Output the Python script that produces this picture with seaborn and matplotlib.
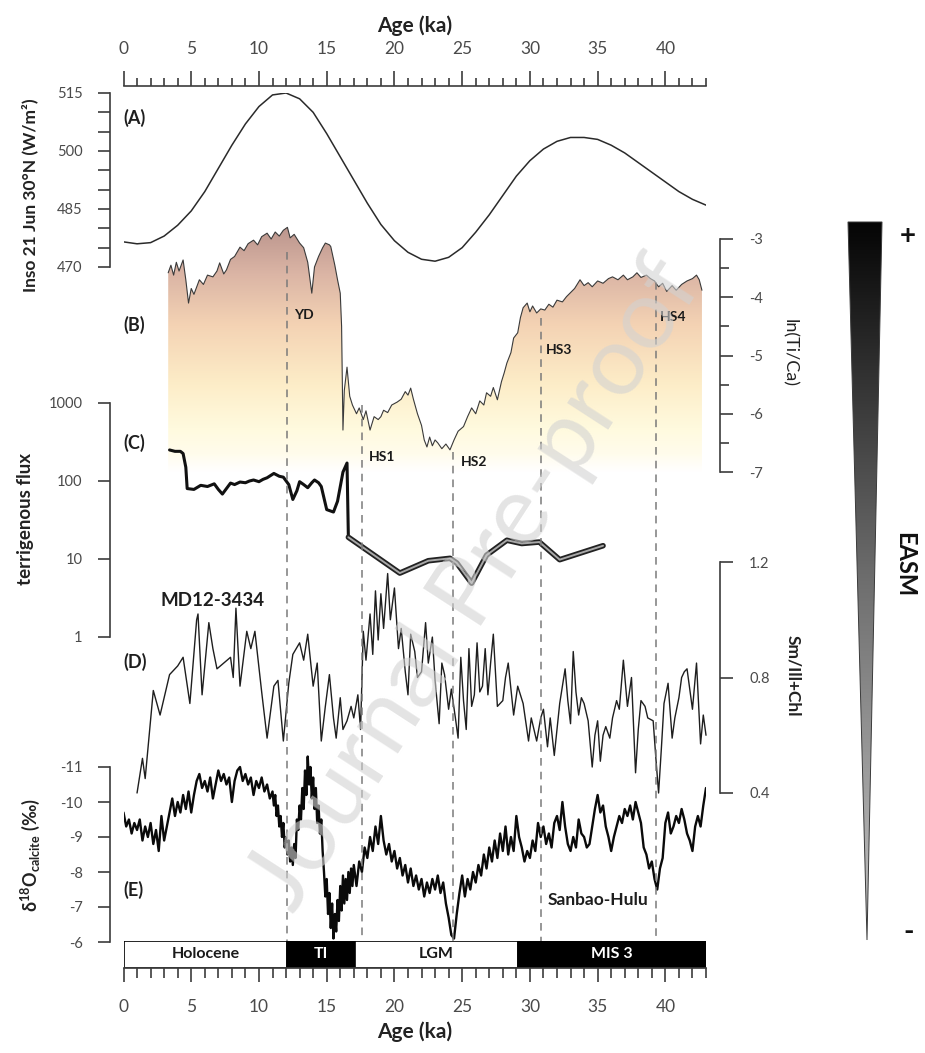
import numpy as np
import matplotlib
matplotlib.use('Agg')
import matplotlib.pyplot as plt
import seaborn as sns
from matplotlib.colors import LinearSegmentedColormap
from matplotlib.patches import Polygon
from matplotlib.ticker import NullLocator

sns.set_theme(style='white')
plt.rcParams['font.family'] = ['Lato', 'DejaVu Sans']
plt.rcParams['axes.facecolor'] = 'none'
plt.rcParams['mathtext.fontset'] = 'custom'
plt.rcParams['mathtext.rm'] = 'Lato:bold'
plt.rcParams['mathtext.default'] = 'rm'

# ---------------- data ----------------
# (A) insolation 21 June 30N
a_age = [0, 1, 2, 3, 4, 5, 6, 7, 8, 9, 10, 11, 12, 13, 14, 15, 16, 17, 18, 19, 20, 21,
         22, 23, 24, 25, 26, 27, 28, 29, 30, 31, 32, 33, 34, 35, 36, 37, 38, 39, 40, 41, 42, 43]
a_inso = [476.5, 476.0, 476.3, 478.0, 480.8, 484.5, 489.5, 495.5, 501.5, 507.0, 511.5, 514.5,
          515.0, 513.5, 510.0, 504.5, 498.5, 492.5, 486.5, 481.0, 476.8, 473.8, 472.0, 471.5,
          472.5, 475.0, 479.0, 483.5, 488.5, 493.5, 497.5, 500.5, 502.5, 503.5, 503.5, 503.0,
          501.5, 499.5, 497.0, 494.5, 492.0, 489.5, 487.5, 486.0]

# (B) ln(Ti/Ca)
b_age = [3.3, 3.5, 3.7, 3.9, 4.1, 4.4, 4.6, 4.8, 5.0, 5.2, 5.6, 5.9, 6.2, 6.6, 6.9, 7.1, 7.4,
         7.6, 7.9, 8.2, 8.6, 8.9, 9.2, 9.6, 9.9, 10.2, 10.6, 10.9, 11.2, 11.5, 11.8, 12.1, 12.3,
         12.6, 13.0, 13.3, 13.6, 13.9, 14.1, 14.4, 14.7, 14.9, 15.2, 15.3, 15.6, 15.8, 16.0,
         16.1, 16.2, 16.3, 16.5, 16.7, 16.9, 17.2, 17.4, 17.7, 17.9, 18.2, 18.5, 18.8, 19.0,
         19.2, 19.5, 19.8, 20.2, 20.5, 20.8, 21.0, 21.2, 21.4, 21.7, 22.0, 22.2, 22.4, 22.6,
         22.8, 23.0, 23.2, 23.5, 23.8, 24.1, 24.4, 24.7, 25.1, 25.4, 25.7, 26.0, 26.3, 26.6,
         26.8, 27.1, 27.3, 27.6, 27.9, 28.1, 28.3, 28.6, 28.8, 29.1, 29.3, 29.5, 29.8, 30.0,
         30.2, 30.5, 30.8, 31.1, 31.4, 31.7, 32.0, 32.4, 32.7, 33.0, 33.3, 33.7, 34.0, 34.3,
         34.6, 35.0, 35.4, 35.8, 36.1, 36.5, 36.9, 37.2, 37.6, 37.9, 38.2, 38.6, 38.9, 39.2,
         39.5, 39.8, 40.1, 40.5, 40.8, 41.2, 41.6, 42.0, 42.3, 42.5, 42.7]
b_tica = [-3.58, -3.45, -3.62, -3.40, -3.55, -3.36, -3.70, -4.10, -3.85, -3.95, -3.70, -3.78,
          -3.62, -3.65, -3.55, -3.41, -3.60, -3.53, -3.35, -3.30, -3.14, -3.20, -3.08, -3.02,
          -3.10, -2.96, -2.90, -3.00, -2.88, -2.95, -2.85, -2.80, -2.98, -2.92, -3.07, -3.15,
          -3.40, -3.93, -3.48, -3.30, -3.15, -3.07, -3.10, -3.13, -3.45, -3.70, -3.93, -4.50,
          -6.28, -5.60, -5.20, -5.70, -5.85, -6.00, -5.90, -6.10, -5.95, -6.28, -6.05, -6.10,
          -6.05, -5.94, -5.98, -5.85, -5.80, -5.75, -5.62, -5.68, -5.56, -5.75, -6.00, -6.20,
          -6.45, -6.57, -6.40, -6.55, -6.45, -6.50, -6.60, -6.52, -6.62, -6.45, -6.30, -6.22,
          -6.05, -5.90, -6.00, -5.78, -5.85, -5.64, -5.70, -5.55, -5.76, -5.45, -5.30, -5.13,
          -4.95, -4.70, -4.61, -4.35, -4.18, -4.10, -4.25, -4.15, -4.27, -4.20, -4.22, -4.12,
          -4.17, -4.05, -4.08, -3.99, -3.92, -3.85, -3.70, -3.80, -3.75, -3.82, -3.72, -3.76,
          -3.68, -3.65, -3.70, -3.62, -3.70, -3.65, -3.58, -3.66, -3.62, -3.68, -3.72, -3.82,
          -3.76, -3.90, -3.80, -3.88, -3.78, -3.72, -3.68, -3.62, -3.70, -3.88]

# (C) terrigenous flux
c_age = [3.4, 3.8, 4.2, 4.4, 4.6, 4.7, 5.2, 5.7, 6.2, 6.7, 7.0, 7.3, 7.6, 7.9, 8.2, 8.6, 9.0,
         9.3, 9.6, 10.0, 10.3, 10.6, 11.1, 11.5, 11.8, 12.2, 12.5, 12.8, 13.0, 13.3, 13.6, 13.9,
         14.1, 14.4, 14.6, 15.0, 15.5, 15.8, 16.2, 16.5, 16.6, 20.4, 22.5, 24.1, 24.6, 25.7,
         26.1, 26.8, 28.3, 29.4, 30.7, 32.2, 35.4]
c_flux = [250, 240, 240, 225, 150, 80, 78, 88, 85, 92, 78, 68, 80, 94, 90, 97, 95, 100, 103,
          98, 105, 110, 125, 115, 112, 90, 58, 75, 98, 90, 82, 95, 103, 95, 85, 43, 40, 55,
          130, 170, 19, 6.6, 9.5, 10.2, 8.9, 4.9, 6.6, 11.2, 17.4, 15.8, 16.5, 9.8, 14.8]

# (D) Sm/Ill+Chl, MD12-3434
d_age = [1.0, 1.4, 1.6, 2.2, 2.7, 3.4, 4.0, 4.4, 4.9, 5.4, 5.5, 5.8, 6.3, 6.6, 6.9, 7.4, 7.9,
         8.1, 8.3, 8.6, 9.1, 9.4, 9.7, 10.2, 10.6, 11.1, 11.4, 11.8, 12.2, 12.5, 13.0, 13.3,
         13.6, 14.0, 14.3, 14.6, 14.9, 15.2, 15.5, 15.7, 16.0, 16.2, 16.5, 16.8, 17.0, 17.3,
         17.5, 17.7, 17.9, 18.2, 18.4, 18.6, 18.8, 19.0, 19.2, 19.5, 19.7, 20.0, 20.3, 20.5,
         20.8, 21.0, 21.2, 21.5, 21.7, 22.0, 22.3, 22.5, 22.8, 23.0, 23.3, 23.5, 23.7, 24.0,
         24.2, 24.5, 24.7, 24.9, 25.1, 25.3, 25.5, 25.7, 25.9, 26.1, 26.3, 26.5, 26.7, 26.9,
         27.1, 27.3, 27.6, 28.0, 28.2, 28.4, 28.8, 29.1, 29.5, 29.9, 30.1, 30.3, 30.5, 30.8,
         31.0, 31.3, 31.5, 31.8, 32.0, 32.2, 32.4, 32.6, 32.8, 33.0, 33.2, 33.4, 33.6, 33.8,
         34.0, 34.3, 34.6, 34.8, 35.0, 35.2, 35.4, 35.6, 35.9, 36.1, 36.4, 36.6, 36.9, 37.2,
         37.5, 37.8, 38.0, 38.2, 38.5, 38.7, 39.1, 39.3, 39.5, 39.7, 39.9, 40.2, 40.5, 40.7,
         41.0, 41.2, 41.4, 41.6, 41.8, 42.0, 42.3, 42.6, 42.8, 43.0]
d_smi = [0.40, 0.52, 0.45, 0.755, 0.67, 0.81, 0.84, 0.87, 0.71, 1.00, 1.02, 0.74, 0.99, 0.90,
         0.83, 0.85, 0.87, 0.80, 1.04, 0.77, 0.96, 0.90, 0.96, 0.75, 0.59, 0.77, 0.79, 0.58,
         0.78, 0.88, 0.92, 0.86, 0.95, 0.77, 0.85, 0.58, 0.70, 0.81, 0.66, 0.59, 0.73, 0.62,
         0.65, 0.70, 0.66, 0.74, 0.62, 0.96, 0.86, 1.02, 0.88, 1.10, 0.93, 1.09, 0.97, 1.16,
         1.00, 1.11, 0.90, 0.97, 0.82, 0.74, 0.95, 0.89, 0.80, 0.82, 0.99, 0.85, 0.94, 0.79,
         0.64, 0.85, 0.81, 0.69, 0.76, 0.66, 0.59, 0.87, 0.72, 0.62, 0.90, 0.70, 0.74, 0.92,
         0.75, 0.77, 0.90, 0.74, 0.85, 0.95, 0.70, 0.72, 0.80, 0.85, 0.67, 0.77, 0.71, 0.58,
         0.66, 0.62, 0.58, 0.66, 0.69, 0.56, 0.66, 0.53, 0.62, 0.71, 0.77, 0.83, 0.72, 0.64,
         0.89, 0.75, 0.67, 0.73, 0.71, 0.65, 0.49, 0.60, 0.65, 0.51, 0.60, 0.63, 0.59, 0.66,
         0.72, 0.69, 0.86, 0.70, 0.80, 0.47, 0.62, 0.72, 0.70, 0.66, 0.65, 0.52, 0.40, 0.55,
         0.71, 0.78, 0.59, 0.66, 0.73, 0.80, 0.82, 0.83, 0.76, 0.69, 0.85, 0.57, 0.67, 0.60]

# (E) speleothem d18O, Sanbao-Hulu
e_age = [0.0, 0.2, 0.4, 0.6, 0.8, 1.0, 1.2, 1.4, 1.6, 1.8,
         2.0, 2.2, 2.4, 2.6, 2.8, 3.0, 3.2, 3.4, 3.6, 3.8,
         4.0, 4.2, 4.4, 4.6, 4.8, 5.0, 5.2, 5.4, 5.6, 5.8,
         6.0, 6.2, 6.4, 6.6, 6.8, 7.0, 7.2, 7.4, 7.6, 7.8,
         8.0, 8.2, 8.4, 8.6, 8.8, 9.0, 9.2, 9.4, 9.6, 9.8,
         10.0, 10.2, 10.4, 10.6, 10.8,
         11.0, 11.1, 11.2, 11.3, 11.4, 11.5, 11.6, 11.7, 11.8, 11.9,
         12.0, 12.1, 12.2, 12.3, 12.4, 12.5, 12.6, 12.7, 12.8, 12.9,
         13.0, 13.1, 13.2, 13.3, 13.4, 13.5, 13.6, 13.7, 13.8, 13.9,
         14.0, 14.1, 14.2, 14.3, 14.4, 14.5, 14.6, 14.7, 14.8, 14.9,
         15.0, 15.1, 15.2, 15.3, 15.4, 15.5, 15.6, 15.7, 15.8, 15.9,
         16.0, 16.1, 16.2, 16.3, 16.4, 16.5, 16.6, 16.7, 16.8, 16.9,
         17.0,
         17.2, 17.4, 17.6, 17.8, 18.0, 18.2, 18.4, 18.6, 18.8, 19.0,
         19.2, 19.4, 19.6, 19.8, 20.0, 20.2, 20.4, 20.6, 20.8, 21.0,
         21.2, 21.4, 21.6, 21.8, 22.0, 22.2, 22.4, 22.6, 22.8, 23.0,
         23.2, 23.4, 23.6, 23.8, 24.0, 24.2, 24.4, 24.6, 24.8, 25.0,
         25.2, 25.4, 25.6, 25.8, 26.0, 26.2, 26.4, 26.6, 26.8, 27.0,
         27.2, 27.4, 27.6, 27.8, 28.0, 28.2, 28.4, 28.6, 28.8, 29.0,
         29.2, 29.4, 29.6, 29.8, 30.0, 30.2, 30.4, 30.6, 30.8, 31.0,
         31.2, 31.4, 31.6, 31.8, 32.0, 32.2, 32.4, 32.6, 32.8, 33.0,
         33.2, 33.4, 33.6, 33.8, 34.0, 34.2, 34.4, 34.6, 34.8, 35.0,
         35.2, 35.4, 35.6, 35.8, 36.0, 36.2, 36.4, 36.6, 36.8, 37.0,
         37.2, 37.4, 37.6, 37.8, 38.0, 38.2, 38.4, 38.6, 38.8, 39.0,
         39.2, 39.4, 39.6, 39.8, 40.0, 40.2, 40.4, 40.6, 40.8, 41.0,
         41.2, 41.4, 41.6, 41.8, 42.0, 42.2, 42.4, 42.6, 42.8, 43.0]
e_d18o = [-9.7, -9.3, -9.5, -9.1, -9.4, -9.2, -9.5, -8.9, -9.3, -9.0,
          -9.4, -8.8, -9.2, -8.6, -9.6, -8.9, -9.3, -9.7, -10.1, -9.6,
          -10.0, -9.7, -10.2, -9.8, -10.3, -9.7, -10.2, -10.6, -10.8, -10.4,
          -10.6, -10.3, -10.7, -10.1, -10.5, -10.9, -10.6, -10.8, -10.5, -10.7,
          -10.0, -10.6, -10.9, -11.0, -10.6, -10.8, -10.5, -10.7, -10.2, -10.6,
          -10.4, -10.7, -10.3, -10.5, -10.1,
          -10.3, -9.9, -10.2, -9.6, -9.9, -9.3, -9.6, -9.0, -9.4, -8.7,
          -9.0, -8.5, -8.9, -8.3, -8.7, -8.2, -8.8, -8.4, -9.5, -9.2,
          -9.9, -9.5, -10.4, -9.8, -10.9, -10.2, -11.3, -10.5, -11.0, -10.1,
          -10.7, -9.8, -10.4, -9.4, -9.9, -9.1, -9.5, -8.6, -8.0, -7.3,
          -7.8, -6.8, -7.4, -6.4, -7.1, -6.1, -6.8, -6.3, -7.2, -6.6,
          -7.6, -6.9, -7.9, -7.1, -7.8, -7.2, -8.0, -7.4, -8.1, -7.6,
          -8.2,
          -7.6, -8.3, -8.0, -8.7, -8.4, -9.0, -8.6, -9.3, -8.8, -9.6,
          -8.9, -8.5, -8.8, -8.3, -8.6, -8.1, -8.4, -7.9, -8.2, -7.7,
          -8.1, -7.6, -7.9, -7.5, -7.8, -7.3, -7.7, -7.4, -7.8, -7.5,
          -7.9, -7.4, -7.7, -7.1, -6.7, -6.2, -6.1, -6.8, -7.4, -7.9,
          -7.3, -7.8, -7.5, -8.0, -7.7, -8.2, -7.9, -8.5, -8.1, -8.7,
          -8.3, -8.9, -8.4, -9.1, -8.6, -9.3, -8.5, -9.0, -8.6, -9.6,
          -9.0, -8.7, -8.3, -8.6, -8.4, -8.9, -8.6, -9.4, -9.0, -9.3,
          -8.8, -9.1, -8.7, -9.4, -9.6, -9.2, -10.0, -9.3, -8.8, -8.6,
          -9.0, -8.7, -9.5, -9.1, -9.0, -8.7, -8.8, -9.3, -9.8, -10.2,
          -9.7, -9.9, -9.3, -9.0, -8.6, -9.0, -9.3, -9.6, -9.4, -9.8,
          -9.6, -9.9, -9.5, -10.0, -9.7, -9.4, -8.7, -8.5, -8.1, -8.3,
          -7.8, -7.5, -8.1, -8.4, -9.4, -9.7, -9.1, -9.3, -9.6, -9.4,
          -9.8, -9.5, -9.1, -8.9, -8.6, -9.3, -9.6, -9.3, -9.9, -10.4]

# climate events (dashed lines) and periods (bottom bar)
event_name = ['YD', 'HS1', 'HS2', 'HS3', 'HS4']
event_age = [12.1, 17.6, 24.3, 30.8, 39.3]
period_name = ['Holocene', 'TI', 'LGM', 'MIS 3']
period_start = [0.0, 12.1, 17.1, 29.1]
period_end = [12.1, 17.1, 29.1, 43.0]

# ---------------- layout ----------------
W, H = 925, 1053
X0, X1 = 123.5, 706.0
SPINE = '#3c3c3c'
TLAB = '#4a4a4a'

fig = plt.figure(figsize=(W / 100, H / 100), dpi=100)
fig.patch.set_facecolor('white')


def add_ax(top, bottom, left=X0, right=X1):
    ax = fig.add_axes([left / W, 1 - bottom / H, (right - left) / W, (bottom - top) / H])
    ax.set_facecolor('none')
    for s in ax.spines.values():
        s.set_visible(False)
    ax.grid(False)
    ax.tick_params(axis='x', which='both', bottom=False, top=False,
                   labelbottom=False, labeltop=False)
    return ax


def yaxis_style(ax, side, lo, hi, major, labels, minor=None, length=9, pad=11):
    sp = ax.spines[side]
    sp.set_visible(True)
    sp.set_position(('outward', 9.5 if side == 'left' else 10))
    sp.set_bounds(lo, hi)
    sp.set_color(SPINE)
    sp.set_linewidth(1.2)
    ax.yaxis.set_ticks_position(side)
    ax.set_yticks(major)
    ax.set_yticklabels(labels)
    if minor is not None:
        ax.set_yticks(minor, minor=True)
    else:
        ax.yaxis.set_minor_locator(NullLocator())
    left = side == 'left'
    ax.tick_params(axis='y', which='both', left=left, right=not left,
                   labelleft=left, labelright=not left, direction='out',
                   width=1.2, color=SPINE, labelcolor=TLAB, labelsize=10.5, pad=pad)
    ax.tick_params(axis='y', which='major', length=length)
    ax.tick_params(axis='y', which='minor', length=length * 0.75)


# (A) insolation
ax_a = add_ax(93, 267)
sns.lineplot(x=a_age, y=a_inso, ax=ax_a, color='#2a2a2a', linewidth=1.1,
             estimator=None, sort=False)
ax_a.set_xlim(0, 43)
ax_a.set_ylim(470, 515)
yaxis_style(ax_a, 'left', 470, 515, [470, 485, 500, 515], ['470', '485', '500', '515'],
            minor=[475, 480, 490, 495, 505, 510])
ax_a.tick_params(axis='y', which='minor', length=9)

# (B) ln(Ti/Ca) with gradient fill
b_top = 239 - 0.4 * 58.25
ax_b = add_ax(b_top, 472)
b_cmap = LinearSegmentedColormap.from_list('tica', [
    (0.00, '#ffffff'), (0.07, '#fffcec'), (0.17, '#fffade'), (0.34, '#fdedc8'),
    (0.57, '#f4d3b4'), (0.77, '#dbb5a5'), (1.00, '#b48e88')])
grad = np.linspace(0, 1, 256).reshape(-1, 1)
im = ax_b.imshow(grad, extent=(0, 43, -7, -2.6), origin='lower', aspect='auto',
                 cmap=b_cmap, zorder=0)
poly = ax_b.fill_between(b_age, b_tica, -7, facecolor='none', edgecolor='none')
im.set_clip_path(poly.get_paths()[0], transform=ax_b.transData)
sns.lineplot(x=b_age, y=b_tica, ax=ax_b, color='#3a3a3a', linewidth=0.8,
             estimator=None, sort=False)
ax_b.set_xlim(0, 43)
ax_b.set_ylim(-7, -2.6)
yaxis_style(ax_b, 'right', -7, -3, [-7, -6, -5, -4, -3], ['-7', '-6', '-5', '-4', '-3'],
            minor=[-6.5, -5.5, -4.5, -3.5], length=9, pad=12)
ax_b.tick_params(axis='y', which='minor', length=6.5)

# (C) terrigenous flux (log)
ax_c = add_ax(403, 637)
ax_c.set_yscale('log')
c_age_arr = np.array(c_age)
c_flux_arr = np.array(c_flux)
early = c_age_arr <= 16.6
late = c_age_arr >= 16.6
sns.lineplot(x=c_age_arr[early], y=c_flux_arr[early], ax=ax_c, color='#111111',
             linewidth=2.2, estimator=None, sort=False)
sns.lineplot(x=c_age_arr[late], y=c_flux_arr[late], ax=ax_c, color='#222222',
             linewidth=4.0, estimator=None, sort=False)
sns.lineplot(x=c_age_arr[late], y=c_flux_arr[late], ax=ax_c, color='#a8a8a8',
             linewidth=1.4, estimator=None, sort=False)
ax_c.set_xlim(0, 43)
ax_c.set_ylim(1, 1000)
yaxis_style(ax_c, 'left', 1, 1000, [1, 10, 100, 1000], ['1', '10', '100', '1000'])

# (D) Sm/Ill+Chl
ax_d = add_ax(562, 793)
sns.lineplot(x=d_age, y=d_smi, ax=ax_d, color='#1e1e1e', linewidth=1.0,
             estimator=None, sort=False)
ax_d.set_xlim(0, 43)
ax_d.set_ylim(0.4, 1.2)
for ln in ax_d.lines:
    ln.set_clip_on(False)
yaxis_style(ax_d, 'right', 0.4, 1.2, [0.4, 0.8, 1.2], ['0.4', '0.8', '1.2'], pad=12)

# (E) d18O (inverted)
ax_e = add_ax(767 - 0.4 * 35, 942)
sns.lineplot(x=e_age, y=e_d18o, ax=ax_e, color='#0a0a0a', linewidth=1.7,
             estimator=None, sort=False)
ax_e.set_xlim(0, 43)
ax_e.set_ylim(-6, -11.4)
yaxis_style(ax_e, 'left', -11, -6, [-11, -10, -9, -8, -7, -6],
            ['-11', '-10', '-9', '-8', '-7', '-6'])

# bottom period bar + age axis
ax_bar = add_ax(941, 968)
widths = [e - s for s, e in zip(period_start, period_end)]
colors = ['white', 'black', 'white', 'black']
ax_bar.barh(0, widths, left=period_start, height=1, color=colors,
            edgecolor='black', linewidth=1.2)
for name, s, e, c in zip(period_name, period_start, period_end, colors):
    ax_bar.text((s + e) / 2, 0, name, ha='center', va='center', fontsize=11.5,
                fontweight='bold', color='white' if c == 'black' else '#1a1a1a')
ax_bar.set_xlim(0, 43)
ax_bar.set_ylim(-0.5, 0.5)
ax_bar.set_yticks([])
ax_bar.spines['bottom'].set_visible(True)
ax_bar.spines['bottom'].set_color(SPINE)
ax_bar.set_xticks(list(range(0, 41, 5)))
ax_bar.set_xticks(list(range(0, 44)), minor=True)
ax_bar.tick_params(axis='x', which='both', bottom=True, labelbottom=True,
                   direction='out', width=1.2, color=SPINE, labelcolor=TLAB,
                   labelsize=12.5, pad=12)
ax_bar.tick_params(axis='x', which='major', length=10)
ax_bar.tick_params(axis='x', which='minor', length=7)
ax_bar.set_xlabel('Age (ka)', fontsize=15, fontweight='bold', labelpad=5, color='#222222')

# top age axis
ax_top = add_ax(86, 87)
ax_top.spines['top'].set_visible(True)
ax_top.spines['top'].set_color(SPINE)
ax_top.spines['top'].set_linewidth(1.2)
ax_top.set_xlim(0, 43)
ax_top.set_yticks([])
ax_top.xaxis.set_ticks_position('top')
ax_top.xaxis.set_label_position('top')
ax_top.set_xticks(list(range(0, 41, 5)))
ax_top.set_xticks(list(range(0, 44)), minor=True)
ax_top.tick_params(axis='x', which='both', top=True, bottom=False, labeltop=True,
                   labelbottom=False, direction='out', width=1.2, color=SPINE,
                   labelcolor=TLAB, labelsize=12.5, pad=10)
ax_top.tick_params(axis='x', which='major', length=11)
ax_top.tick_params(axis='x', which='minor', length=6)
ax_top.set_xlabel('Age (ka)', fontsize=15, fontweight='bold', labelpad=6, color='#222222')

# dashed event lines + labels
ax_ov = add_ax(0, H)
ax_ov.set_xlim(0, 43)
ax_ov.set_ylim(H, 0)
ax_ov.axis('off')
event_top = [252, 405, 452, 318, 282]
ax_ov.vlines(event_age, event_top, 941, colors='#7a7a7a', linestyles=(0, (5, 4)),
             linewidth=1.1)
event_lab_xy = [(12.6, 315), (18.1, 457), (24.9, 462), (31.2, 350), (39.6, 317)]
for name, (ex, ey) in zip(event_name, event_lab_xy):
    ax_ov.text(ex, ey, name, ha='left', va='center', fontsize=10, fontweight='bold',
               color='#1a1a1a')


def ftext(x, y, s, **kw):
    return fig.text(x / W, 1 - y / H, s, **kw)


# panel letters and series names
for lab, yy in [('(A)', 118), ('(B)', 325), ('(C)', 443), ('(D)', 662), ('(E)', 890)]:
    ftext(123, yy, lab, ha='left', va='center', fontsize=13, fontweight='bold',
          color='#1e1e1e')
ftext(213, 600, 'MD12-3434', ha='center', va='center', fontsize=13.5,
      fontweight='bold', color='#1e1e1e')
ftext(598, 900, 'Sanbao-Hulu', ha='center', va='center', fontsize=12.5,
      fontweight='bold', color='#1e1e1e')

# axis titles
ftext(30, 195, 'Inso 21 Jun 30°N (W/m²)', rotation=90, ha='center', va='center',
      fontsize=12.5, fontweight='bold', color='#222222')
ftext(26, 519, 'terrigenous flux', rotation=90, ha='center', va='center',
      fontsize=13.5, fontweight='bold', color='#222222')
ftext(30, 855, r'$\delta^{18}O_{calcite}$ (‰)', rotation=90, ha='center', va='center',
      fontsize=13, fontweight='bold', color='#222222')
ftext(789, 353, 'ln(Ti/Ca)', rotation=-90, ha='center', va='center', fontsize=13,
      color='#222222')
ftext(793, 676, 'Sm/Ill+Chl', rotation=-90, ha='center', va='center', fontsize=12.5,
      fontweight='bold', color='#222222')

# EASM wedge
ax_fig = fig.add_axes([0, 0, 1, 1])
ax_fig.axis('off')
tri = Polygon([[848, 222], [882, 222], [867, 940]], closed=True, facecolor='none',
              edgecolor='#3a3a3a', linewidth=0.7, zorder=3)
ax_fig.add_patch(tri)
wcmap = LinearSegmentedColormap.from_list('easm', ['#050505', '#6e6e6e', '#c4c4c4'])
g = ax_fig.imshow(grad, extent=(846, 884, 940, 222), origin='upper', aspect='auto',
                  cmap=wcmap, zorder=2)
g.set_clip_path(tri)
ax_fig.set_xlim(0, W)
ax_fig.set_ylim(H, 0)
ax_fig.text(908, 236, '+', ha='center', va='center', fontsize=20, fontweight='bold',
            color='#111111')
ax_fig.text(905, 565, 'EASM', rotation=-90, ha='center', va='center', fontsize=17,
            fontweight='bold', color='#111111')
ax_fig.text(909, 932, '-', ha='center', va='center', fontsize=20, fontweight='bold',
            color='#111111')

# watermark
ftext(476, 585, 'Journal Pre-proof', rotation=57, ha='center', va='center',
      fontsize=70, fontweight='normal', color='#d2d2d2', alpha=0.6, zorder=20)

fig.savefig('out.png', dpi=100, facecolor='white')
